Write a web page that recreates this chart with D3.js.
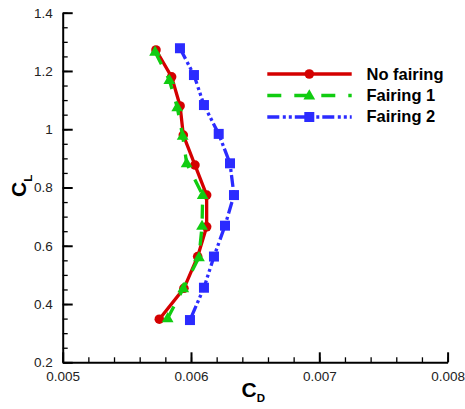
<!DOCTYPE html>
<html>
<head>
<meta charset="utf-8">
<script src="https://cdn.jsdelivr.net/npm/d3@7"></script>
<style>
  html, body { margin: 0; padding: 0; background: #fff; }
  svg { display: block; font-family: "Liberation Sans", Arial, sans-serif; }
</style>
</head>
<body>
<svg id="chart" width="465" height="409"></svg>
<script>
// Drag coefficient (CD) vs lift coefficient (CL) for three configurations
const seriesNames = ["No fairing", "Fairing 1", "Fairing 2"];

const noFairingCD = [0.005727, 0.005849, 0.005915, 0.005940, 0.006031, 0.006122, 0.006122, 0.006052, 0.005945, 0.005753];
const noFairingCL = [1.272, 1.180, 1.080, 0.980, 0.877, 0.774, 0.665, 0.563, 0.454, 0.348];

const fairing1CD = [0.005720, 0.005831, 0.005893, 0.005935, 0.005966, 0.006091, 0.006086, 0.006062, 0.005940, 0.005818];
const fairing1CL = [1.266, 1.169, 1.075, 0.977, 0.883, 0.774, 0.668, 0.560, 0.454, 0.351];

const fairing2CD = [0.005914, 0.006023, 0.006101, 0.006216, 0.006304, 0.006335, 0.006265, 0.006179, 0.006101, 0.005992];
const fairing2CL = [1.278, 1.186, 1.083, 0.984, 0.883, 0.774, 0.669, 0.563, 0.456, 0.345];

const xTicks = [0.005, 0.006, 0.007, 0.008];
const xTickLabels = ["0.005", "0.006", "0.007", "0.008"];
const yTicks = [0.2, 0.4, 0.6, 0.8, 1.0, 1.2, 1.4];
const yTickLabels = ["0.2", "0.4", "0.6", "0.8", "1", "1.2", "1.4"];

const svg = d3.select("#chart");

const x = d3.scaleLinear().domain([0.005, 0.008]).range([62.7, 447.6]);
const y = d3.scaleLinear().domain([0.2, 1.4]).range([362.3, 12.7]);

const styles = [
  { color: "#d40000", dash: null, marker: "circle" },
  { color: "#11cc11", dash: "14,13", marker: "triangle" },
  { color: "#2b2bff", dash: "12,3.5,3,3,3,3", marker: "square" }
];

const series = [
  noFairingCD.map((d, i) => ({ cd: d, cl: noFairingCL[i] })),
  fairing1CD.map((d, i) => ({ cd: d, cl: fairing1CL[i] })),
  fairing2CD.map((d, i) => ({ cd: d, cl: fairing2CL[i] }))
];

// Axes (ticks point inward)
const xMinor = d3.range(0, 16).map(i => 0.005 + i * 0.0002);
const yMinor = d3.range(0, 25).map(i => 0.2 + i * 0.05);

const xMinorAxis = svg.append("g").attr("transform", `translate(0,${y(0.2)})`)
  .call(d3.axisBottom(x).tickValues(xMinor).tickSizeInner(-5).tickSizeOuter(0).tickFormat(""));
const yMinorAxis = svg.append("g").attr("transform", `translate(${x(0.005)},0)`)
  .call(d3.axisLeft(y).tickValues(yMinor).tickSizeInner(-5).tickSizeOuter(0).tickFormat(""));
[xMinorAxis, yMinorAxis].forEach(g => {
  g.select(".domain").remove();
  g.selectAll("line").attr("stroke", "#000").attr("stroke-width", 1.3);
});

const xAxis = svg.append("g").attr("transform", `translate(0,${y(0.2)})`)
  .call(d3.axisBottom(x).tickValues(xTicks).tickSizeInner(-10).tickSizeOuter(0).tickPadding(9)
    .tickFormat((d, i) => xTickLabels[i]));
const yAxis = svg.append("g").attr("transform", `translate(${x(0.005)},0)`)
  .call(d3.axisLeft(y).tickValues(yTicks).tickSizeInner(-10).tickSizeOuter(0).tickPadding(10)
    .tickFormat((d, i) => yTickLabels[i]));
[xAxis, yAxis].forEach(g => {
  g.select(".domain").attr("stroke", "#000").attr("stroke-width", 2);
  g.selectAll("line").attr("stroke", "#000").attr("stroke-width", 2);
  g.selectAll("text").attr("font-size", 13.5).attr("fill", "#222")
    .attr("font-family", "Liberation Sans, Arial, sans-serif");
});
yAxis.selectAll("text").attr("x", -10);

// Axis titles
const xTitle = svg.append("text").attr("x", 241.5).attr("y", 396.7)
  .attr("font-weight", "bold").attr("font-size", 21).attr("fill", "#000");
xTitle.append("tspan").text("C");
xTitle.append("tspan").attr("font-size", 11.5).attr("dy", 5).text("D");

const yTitle = svg.append("text").attr("transform", "translate(25.5,197) rotate(-90)")
  .attr("font-weight", "bold").attr("font-size", 21).attr("fill", "#000");
yTitle.append("tspan").text("C");
yTitle.append("tspan").attr("font-size", 11.5).attr("dy", 6).text("L");

// Markers
function drawMarker(g, type, color, cx, cy) {
  if (type === "circle") {
    g.append("circle").attr("cx", cx).attr("cy", cy).attr("r", 4.8).attr("fill", color);
  } else if (type === "triangle") {
    const s = d3.symbol().type(d3.symbolTriangle).size(60);
    g.append("path").attr("d", s()).attr("transform", `translate(${cx},${cy + 0.5})`).attr("fill", color);
  } else {
    g.append("rect").attr("x", cx - 5).attr("y", cy - 5).attr("width", 10).attr("height", 10).attr("fill", color);
  }
}

const line = d3.line().x(d => x(d.cd)).y(d => y(d.cl));

series.forEach((data, k) => {
  const st = styles[k];
  const g = svg.append("g");
  g.append("path").datum(data).attr("d", line)
    .attr("fill", "none").attr("stroke", st.color).attr("stroke-width", 3.3)
    .attr("stroke-dasharray", st.dash);
  data.forEach(d => drawMarker(g, st.marker, st.color, x(d.cd), y(d.cl)));
});

// Legend
const legendY = [74, 95.5, 117];
const legendTextY = [79.5, 101, 122];
seriesNames.forEach((name, k) => {
  const st = styles[k];
  const g = svg.append("g");
  g.append("line").attr("x1", 267.3).attr("x2", 351.7).attr("y1", legendY[k]).attr("y2", legendY[k])
    .attr("stroke", st.color).attr("stroke-width", 3.5).attr("stroke-dasharray", st.dash);
  drawMarker(g, st.marker, st.color, 309.3, legendY[k]);
  g.append("text").attr("x", 366.5).attr("y", legendTextY[k])
    .attr("font-weight", "bold").attr("font-size", 16.5).attr("fill", "#000").text(name);
});
</script>
</body>
</html>
